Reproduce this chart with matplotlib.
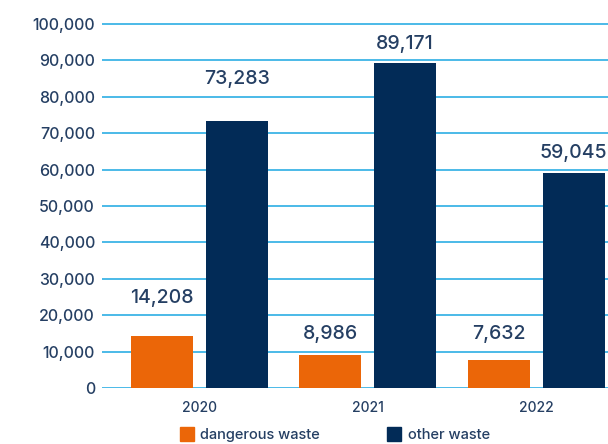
import numpy as np
import matplotlib.pyplot as plt
from matplotlib.lines import Line2D

years = ["2020", "2021", "2022"]
dangerous = [14208, 8986, 7632]
other = [73283, 89171, 59045]
# how far above each bar top its value label sits (data units)
dangerous_gap = [10650, 5850, 7200]
other_gap = [11600, 5470, 5650]

ORANGE = "#eb6608"
NAVY = "#022b57"
GRID = "#3db4e6"
TEXT = "#253f63"

plt.rcParams["font.family"] = ["Inter", "DejaVu Sans"]
plt.rcParams["font.weight"] = "medium"

fig = plt.figure(figsize=(6.08, 4.44), dpi=100)
ax = fig.add_axes([102 / 608, 1 - 388 / 444, 506 / 608, (388 - 22.2) / 444])

x = np.arange(len(years))
off = 0.2226
w = 0.368
b1 = ax.bar(x - off, dangerous, w, color=ORANGE, zorder=3)
b2 = ax.bar(x + off, other, w, color=NAVY, zorder=3)

for bars, vals, gaps in ((b1, dangerous, dangerous_gap), (b2, other, other_gap)):
    for rect, v, g in zip(bars, vals, gaps):
        ax.text(rect.get_x() + rect.get_width() / 2, v + g, f"{v:,}",
                ha="center", va="center", fontsize=14, color=TEXT)

ax.set_xlim(-0.576, 2.427)
ax.set_ylim(0, 100500)
ax.set_yticks(np.arange(0, 100001, 10000))
ax.set_yticklabels([f"{v:,}" for v in range(0, 100001, 10000)])
ax.set_xticks(x)
ax.set_xticklabels(years)
ax.tick_params(axis="y", length=0, pad=5, labelsize=11.5, labelcolor=TEXT)
ax.tick_params(axis="x", length=0, pad=9, labelsize=10, labelcolor=TEXT)
ax.grid(axis="y", color=GRID, linewidth=1.3, zorder=0)
for s in ax.spines.values():
    s.set_visible(False)

handles = [
    Line2D([], [], marker="s", linestyle="none", markersize=10, color=ORANGE),
    Line2D([], [], marker="s", linestyle="none", markersize=10, color=NAVY),
]
fig.legend(handles, ["dangerous waste", "other waste"], loc="center",
           bbox_to_anchor=(0.552, 1 - 435 / 444), ncol=2, frameon=False,
           fontsize=10.5, labelcolor=TEXT, handletextpad=0.6,
           columnspacing=4.7, handlelength=0.7, borderpad=0)

fig.savefig("out.png", dpi=100)
